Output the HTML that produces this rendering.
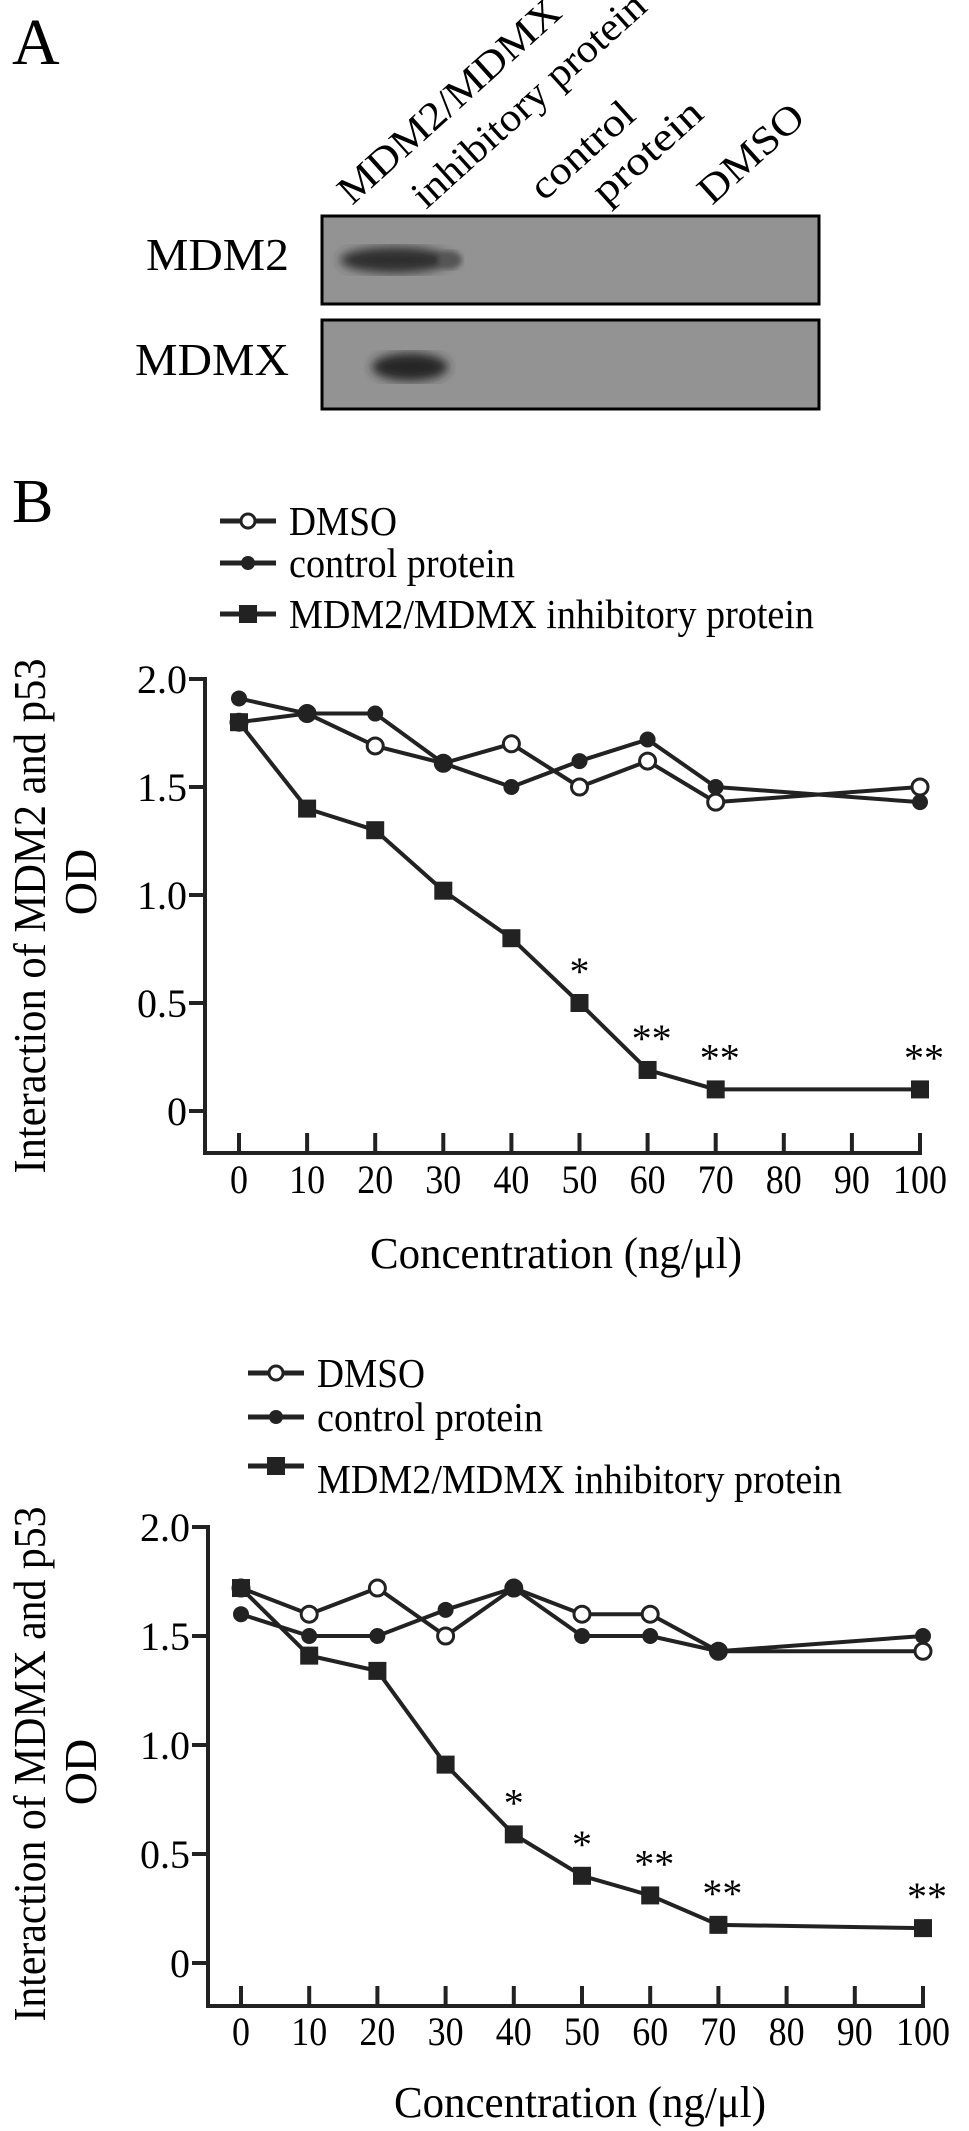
<!DOCTYPE html>
<html><head><meta charset="utf-8"><style>
html,body{margin:0;padding:0;background:#fff;}
svg{display:block;}
text{font-family:"Liberation Serif",serif;fill:#000;}
</style></head><body>
<svg id="fig" width="969" height="2131" viewBox="0 0 969 2131" xmlns="http://www.w3.org/2000/svg">
<defs>
<filter id="blur4"><feGaussianBlur stdDeviation="5"/></filter>
<filter id="blur2"><feGaussianBlur stdDeviation="3"/></filter>
</defs>
<text x="12" y="64" font-size="66">A</text>
<g font-size="40">
<text transform="translate(352,206) rotate(-42)" textLength="285" lengthAdjust="spacingAndGlyphs">MDM2/MDMX</text>
<text transform="translate(426,210) rotate(-42)" textLength="300" lengthAdjust="spacingAndGlyphs">inhibitory protein</text>
<text transform="translate(544,202) rotate(-42)" textLength="126" lengthAdjust="spacingAndGlyphs">control</text>
<text transform="translate(606,206) rotate(-42)" textLength="134" lengthAdjust="spacingAndGlyphs">protein</text>
<text transform="translate(712,206) rotate(-42)" textLength="128" lengthAdjust="spacingAndGlyphs">DMSO</text>
</g>
<text x="289" y="270" font-size="46" text-anchor="end" textLength="143" lengthAdjust="spacingAndGlyphs">MDM2</text>
<text x="289" y="375" font-size="46" text-anchor="end" textLength="154" lengthAdjust="spacingAndGlyphs">MDMX</text>
<g>
<rect x="322" y="216" width="497" height="88" fill="#939393"/>
<ellipse cx="395" cy="260" rx="55" ry="13" fill="#2e2e2e" filter="url(#blur4)"/>
<ellipse cx="450" cy="260" rx="12" ry="9" fill="#555" filter="url(#blur2)"/>
<rect x="322" y="216" width="497" height="88" fill="none" stroke="#000" stroke-width="3"/>
</g>
<g>
<rect x="322" y="320" width="497" height="89" fill="#939393"/>
<ellipse cx="410" cy="367" rx="38" ry="14" fill="#262626" filter="url(#blur4)"/>
<rect x="322" y="320" width="497" height="89" fill="none" stroke="#000" stroke-width="3"/>
</g>
<text x="12" y="522" font-size="62">B</text>
<g id="chart1"></g>
<g id="chart2"></g>
</svg>
<script>
const categories=[0,10,20,30,40,50,60,70,100];
const tickLabels=["0","10","20","30","40","50","60","70","80","90","100"];
const tickValues=[0,10,20,30,40,50,60,70,80,90,100];
const yTicks=[0,0.5,1.0,1.5,2.0];
const yTickLabels=["0","0.5","1.0","1.5","2.0"];
const mdm2Dmso=[1.80,1.84,1.69,1.61,1.70,1.50,1.62,1.43,1.50];
const mdm2Control=[1.91,1.84,1.84,1.61,1.50,1.62,1.72,1.50,1.43];
const mdm2Inhib=[1.80,1.40,1.30,1.02,0.80,0.50,0.19,0.10,0.10];
const mdm2Stars=["","","","","","*","**","**","**"];
const mdmxDmso=[1.72,1.60,1.72,1.50,1.72,1.60,1.60,1.43,1.43];
const mdmxControl=[1.60,1.50,1.50,1.62,1.72,1.50,1.50,1.43,1.50];
const mdmxInhib=[1.72,1.41,1.34,0.91,0.59,0.40,0.31,0.175,0.16];
const mdmxStars=["","","","","*","*","**","**","**"];

const NS="http://www.w3.org/2000/svg";
function mk(parent,tag,attrs){const e=document.createElementNS(NS,tag);for(const k in attrs)e.setAttribute(k,attrs[k]);parent.appendChild(e);return e;}

function drawChart(g,cfg){
  const x=v=>cfg.x0+(v/100)*(cfg.x100-cfg.x0);
  const y=v=>cfg.y0-v*cfg.perUnit;
  const leg=[["DMSO","open"],["control protein","dot"],["MDM2/MDMX inhibitory protein","square"]];
  leg.forEach((L,i)=>{
    const ly=cfg.legY[i];
    const lg=mk(g,"g",{});
    
    
    mk(lg,"line",{x1:cfg.legX,y1:ly,x2:cfg.legX+56,y2:ly,stroke:"#222","stroke-width":5});
    const cx=cfg.legX+28;
    if(L[1]=="open"){mk(lg,"circle",{cx:cx,cy:ly,r:7,fill:"#fff",stroke:"#222","stroke-width":3});}
    else if(L[1]=="dot"){mk(lg,"circle",{cx:cx,cy:ly,r:7,fill:"#222"});}
    else{mk(lg,"rect",{x:cx-9,y:ly-9,width:18,height:18,fill:"#222"});}
    const t=mk(lg,"text",{x:cfg.legTX,y:cfg.legTY[i],"font-size":41,textLength:cfg.legW[i],lengthAdjust:"spacingAndGlyphs"});
    t.textContent=L[0];
  });
  const ax=mk(g,"g",{stroke:"#222","stroke-width":4,fill:"none"});
  
  
  mk(ax,"line",{x1:cfg.axX,y1:y(2)-2,x2:cfg.axX,y2:cfg.axY+2});
  mk(ax,"line",{x1:cfg.axX,y1:cfg.axY,x2:x(100)+2,y2:cfg.axY});
  yTicks.forEach((v,i)=>{
    mk(ax,"line",{x1:cfg.axX-16,y1:y(v),x2:cfg.axX,y2:y(v)});
    const t=mk(g,"text",{x:cfg.axX-18,y:y(v)+14,"font-size":40,"text-anchor":"end",textLength:yTickLabels[i].length>1?50:20,lengthAdjust:"spacingAndGlyphs"});
    
    
    t.textContent=yTickLabels[i];
  });
  tickValues.forEach((v,i)=>{
    mk(ax,"line",{x1:x(v),y1:cfg.axY-20,x2:x(v),y2:cfg.axY});
    const t=mk(g,"text",{x:x(v),y:cfg.tickLabY,"font-size":40,"text-anchor":"middle",textLength:tickLabels[i].length*18,lengthAdjust:"spacingAndGlyphs"});
    
    
    t.textContent=tickLabels[i];
  });
  const xt=mk(g,"text",{x:cfg.xTitleX,y:cfg.xTitleY,"font-size":44,"text-anchor":"middle",textLength:372,lengthAdjust:"spacingAndGlyphs"});
  
  
  xt.textContent="Concentration (ng/\u03bcl)";
  const yt=mk(g,"text",{transform:"translate(45,"+cfg.yTitleC+") rotate(-90)","font-size":46,"text-anchor":"middle",textLength:515,lengthAdjust:"spacingAndGlyphs"});
  
  
  yt.textContent=cfg.yTitle;
  const yt2=mk(g,"text",{transform:"translate(96,"+cfg.odC+") rotate(-90)","font-size":46,"text-anchor":"middle"});
  
  
  yt2.textContent="OD";
  const series=[[cfg.dmso,"open","dmso"],[cfg.control,"dot","control"],[cfg.inhib,"square","inhibitory"]];
  series.forEach(S=>{
    const sg=mk(g,"g",{});
    
    
    const pts=categories.map((c,i)=>x(c)+","+y(S[0][i])).join(" ");
    mk(sg,"polyline",{points:pts,fill:"none",stroke:"#222","stroke-width":4,"stroke-linejoin":"round"});
    categories.forEach((c,i)=>{
      let m;
      if(S[1]=="open")m=mk(sg,"circle",{cx:x(c),cy:y(S[0][i]),r:8,fill:"#fff",stroke:"#222","stroke-width":3});
      else if(S[1]=="dot")m=mk(sg,"circle",{cx:x(c),cy:y(S[0][i]),r:8,fill:"#222"});
      else m=mk(sg,"rect",{x:x(c)-9,y:y(S[0][i])-9,width:18,height:18,fill:"#222"});
      
      
    });
  });
  cfg.stars.forEach((s,i)=>{
    if(!s)return;
    const t=mk(g,"text",{x:x(categories[i])+(s.length>1?4:0),y:y(cfg.inhib[i])-18,"font-size":40,"text-anchor":"middle"});
    
    
    t.textContent=s;
  });
}
drawChart(document.getElementById('chart1'),{x0:239,x100:920,y0:1111,perUnit:216,axX:205,axY:1153,
  legX:220,legY:[521,563,614],legTX:289,legTY:[535,577,628],legW:[108,226,525],
  tickLabY:1193,xTitleX:556,xTitleY:1268,yTitleC:916,odC:882,yTitle:"Interaction of MDM2 and p53",
  dmso:mdm2Dmso,control:mdm2Control,inhib:mdm2Inhib,stars:mdm2Stars});
drawChart(document.getElementById('chart2'),{x0:241,x100:923,y0:1963,perUnit:218,axX:208,axY:2006,
  legX:248,legY:[1373,1417,1466],legTX:317,legTY:[1387,1431,1493],legW:[108,226,525],
  tickLabY:2045,xTitleX:580,xTitleY:2117,yTitleC:1764,odC:1772,yTitle:"Interaction of MDMX and p53",
  dmso:mdmxDmso,control:mdmxControl,inhib:mdmxInhib,stars:mdmxStars});
</script>
</body></html>
